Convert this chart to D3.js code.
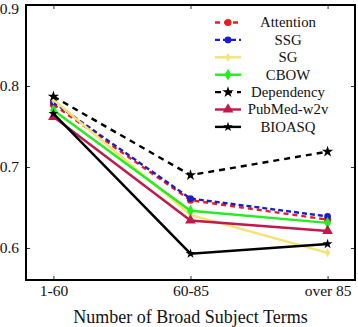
<!DOCTYPE html>
<html>
<head>
<meta charset="utf-8">
<script src="https://cdn.jsdelivr.net/npm/d3@7"></script>
<style>
body { margin: 0; background: #fff; }
text { font-family: "Liberation Serif", serif; }
</style>
</head>
<body>
<svg></svg>
<script>
const categories = ["1-60", "60-85", "over 85"];
const seriesNames = ["Attention", "SSG", "SG", "CBOW", "Dependency", "PubMed-w2v", "BIOASQ"];
const attention = [0.777, 0.659, 0.635];
const ssg = [0.780, 0.661, 0.639];
const sg = [0.783, 0.641, 0.594];
const cbow = [0.770, 0.646, 0.631];
const dependency = [0.787, 0.690, 0.719];
const pubmed = [0.762, 0.634, 0.621];
const bioasq = [0.766, 0.593, 0.605];
const yTicks = [0.6, 0.7, 0.8, 0.9];

const styles = [
  { color: "#ee1c1c", dash: "5,4", symbol: d3.symbolCircle, size: 40 },
  { color: "#1c1ccc", dash: "5,3", symbol: d3.symbolCircle, size: 36 },
  { color: "#f5e36e", dash: null, symbol: d3.symbolDiamond, size: 22 },
  { color: "#22ee22", dash: null, symbol: d3.symbolDiamond, size: 40 },
  { color: "#000000", dash: "6,5", symbol: d3.symbolStar, size: 40 },
  { color: "#c2184c", dash: null, symbol: d3.symbolTriangle, size: 50 },
  { color: "#000000", dash: null, symbol: d3.symbolStar, size: 30 }
];
const values = [attention, ssg, sg, cbow, dependency, pubmed, bioasq];

const width = 358, height = 327;
const mLeft = 26, mRight = 355, mTop = 5, mBottom = 280;

const svg = d3.select("svg").attr("width", width).attr("height", height);

const x = d3.scalePoint().domain(categories).range([mLeft, mRight]).padding(0.2);
const y = d3.scaleLinear().domain([0.5605, 0.9]).range([mBottom, mTop]);

// axes with inward ticks on all four sides
svg.append("g").attr("transform", `translate(0,${mBottom})`)
  .call(d3.axisBottom(x).tickSizeInner(-4).tickSizeOuter(0).tickPadding(5))
  .call(g => g.select(".domain").remove());
svg.append("g").attr("transform", `translate(0,${mTop})`)
  .call(d3.axisTop(x).tickSizeInner(-4).tickSizeOuter(0).tickFormat(""))
  .call(g => g.select(".domain").remove());
svg.append("g").attr("transform", `translate(${mLeft},0)`)
  .call(d3.axisLeft(y).tickValues(yTicks).tickFormat(d3.format(".1f")).tickSizeInner(-4).tickSizeOuter(0).tickPadding(7))
  .call(g => g.select(".domain").remove())
  .call(g => g.selectAll(".tick text").filter(d => d === 0.9).attr("dy", "0.55em"));
svg.append("g").attr("transform", `translate(${mRight},0)`)
  .call(d3.axisRight(y).tickValues(yTicks).tickFormat("").tickSizeInner(-4).tickSizeOuter(0))
  .call(g => g.select(".domain").remove());

svg.selectAll(".tick text").attr("font-size", 15.5).attr("fill", "#111");
svg.selectAll(".tick line").attr("stroke", "#333");

svg.append("text")
  .attr("x", 190.5).attr("y", 323)
  .attr("text-anchor", "middle").attr("font-size", 18).attr("fill", "#111")
  .text("Number of Broad Subject Terms");

const line = d3.line().x((d, i) => x(categories[i])).y(d => y(d));

values.forEach((vals, k) => {
  const s = styles[k];
  svg.append("path").datum(vals)
    .attr("d", line).attr("fill", "none")
    .attr("stroke", s.color).attr("stroke-width", 2.4)
    .attr("stroke-dasharray", s.dash);
  svg.selectAll(null).data(vals).enter().append("path")
    .attr("transform", (d, i) => `translate(${x(categories[i])},${y(d)})`)
    .attr("d", d3.symbol(s.symbol, s.size))
    .attr("fill", s.color);
});

// legend
const leg = svg.append("g");
seriesNames.forEach((name, k) => {
  const s = styles[k];
  const ly = 22.5 + k * 17.4;
  leg.append("line").attr("x1", 215).attr("x2", 241).attr("y1", ly).attr("y2", ly)
    .attr("stroke", s.color).attr("stroke-width", 2.4).attr("stroke-dasharray", s.dash);
  leg.append("path").attr("transform", `translate(228,${ly})`)
    .attr("d", d3.symbol(s.symbol, s.size)).attr("fill", s.color);
  leg.append("text").attr("x", 288).attr("y", ly + 4.8)
    .attr("text-anchor", "middle").attr("font-size", 14.8).attr("fill", "#111")
    .text(name);
});

svg.append("rect").attr("x", mLeft).attr("y", mTop)
  .attr("width", mRight - mLeft).attr("height", mBottom - mTop)
  .attr("fill", "none").attr("stroke", "#000").attr("stroke-width", 2);
</script>
</body>
</html>
